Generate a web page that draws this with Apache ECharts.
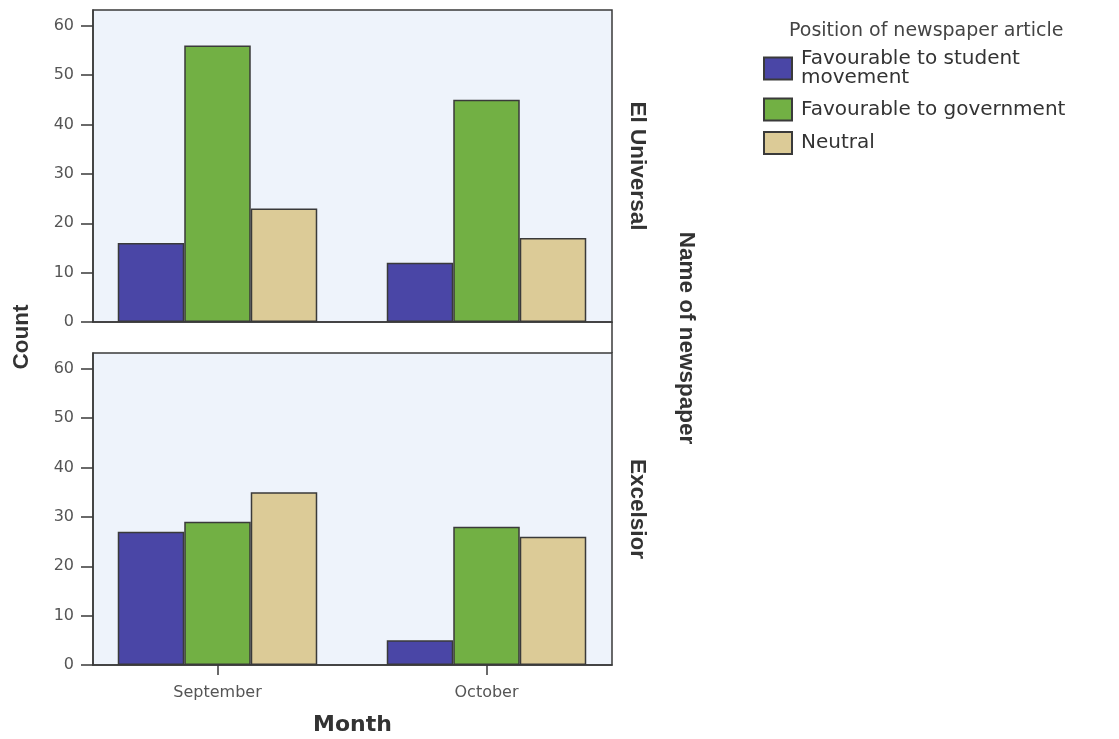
<!DOCTYPE html>
<html>
<head>
<meta charset="utf-8">
<script src="https://cdn.jsdelivr.net/npm/echarts@6/dist/echarts.min.js"></script>
<style>
  html, body { margin: 0; padding: 0; background: #fff; }
  #chartContainer { width: 1119px; height: 739px; }
</style>
</head>
<body>
<div id="chartContainer"></div>
<script>
var MONTHS = ["September", "October"];
var POSITIONS = ["Favourable to student movement", "Favourable to government", "Neutral"];
var PAPERS = ["El Universal", "Excelsior"];
// counts per month
var UNIVERSAL_STUDENT = [16, 12];
var UNIVERSAL_GOV = [56, 45];
var UNIVERSAL_NEUTRAL = [23, 17];
var EXCELSIOR_STUDENT = [27, 5];
var EXCELSIOR_GOV = [29, 28];
var EXCELSIOR_NEUTRAL = [35, 26];
var Y_TICKS = [0, 10, 20, 30, 40, 50, 60];
var COLORS = ["#4a46a6", "#72b044", "#dccb97"];

var CHART;
var LINE = "#3a3a3a";
var FONT = "DejaVu Sans";

function toPoints(values) {
  return values.map((v, i) => [i, v]);
}

function makeBar(name, values, panel, color) {
  return {
    name: name,
    type: "bar",
    xAxisIndex: panel,
    yAxisIndex: panel,
    barWidth: 66.5,
    barGap: "0%",
    data: toPoints(values),
    itemStyle: { color: color, borderColor: LINE, borderWidth: 1.5 },
    emphasis: { disabled: true },
  };
}

function makeXAxis(panel) {
  let axis = {
    type: "value",
    gridIndex: panel,
    min: -0.4628,
    max: 1.4665,
    splitLine: { show: false },
    axisLine: { show: true, onZero: false, lineStyle: { color: LINE, width: 1.5 } },
    axisTick: { show: false },
    axisLabel: { show: false },
  };
  if (panel == 1) {
    axis.axisTick = {
      show: true,
      length: 10,
      customValues: [0, 1],
      lineStyle: { color: LINE, width: 1.5 },
    };
    axis.axisLabel = {
      show: true,
      customValues: [0, 1],
      margin: 20,
      color: "#555",
      fontFamily: FONT,
      fontSize: 16,
      formatter: (v) => MONTHS[Math.round(v)],
    };
    axis.name = "Month";
    axis.nameLocation = "middle";
    axis.nameGap = 49;
    axis.nameTextStyle = { color: "#333", fontFamily: FONT, fontSize: 22, fontWeight: "bold" };
  }
  return axis;
}

function makeYAxis(panel) {
  return {
    type: "value",
    gridIndex: panel,
    min: 0,
    max: 63.2,
    splitLine: { show: false },
    axisLine: { show: true, onZero: false, lineStyle: { color: LINE, width: 1.5 } },
    axisTick: {
      show: true,
      length: 12,
      customValues: Y_TICKS,
      lineStyle: { color: LINE, width: 1.5 },
    },
    axisLabel: {
      customValues: Y_TICKS,
      margin: 19,
      color: "#555",
      fontFamily: FONT,
      fontSize: 16,
    },
  };
}

function rotatedText(text, x, y, rotation) {
  return {
    type: "text",
    x: x,
    y: y,
    rotation: rotation,
    style: {
      text: text,
      fill: "#333",
      font: "bold 22.5px 'Liberation Sans', Arial, sans-serif",
      align: "center",
      verticalAlign: "middle",
    },
  };
}

window.onload = (_) => {
  CHART = echarts.init(document.getElementById("chartContainer"), null, { renderer: "canvas" });

  var option = {
    animation: false,
    title: {
      text: "Position of newspaper article",
      left: 789,
      top: 22,
      padding: 0,
      textStyle: { color: "#444", fontFamily: FONT, fontSize: 19, fontWeight: "normal" },
    },
    legend: {
      data: POSITIONS,
      orient: "vertical",
      left: 763,
      top: 49,
      padding: 0,
      itemGap: 9.5,
      itemWidth: 28,
      itemHeight: 22,
      icon: "rect",
      selectedMode: false,
      formatter: (name) => (name == POSITIONS[0] ? "Favourable to student\nmovement" : name),
      textStyle: { color: "#333", fontFamily: FONT, fontSize: 20, lineHeight: 19, padding: [0, 0, 0, 4] },
    },
    grid: [
      {
        id: "universal",
        left: 93,
        top: 10,
        width: 519,
        height: 312,
        show: true,
        backgroundColor: "#eef3fb",
        borderColor: LINE,
        borderWidth: 1.5,
        outerBoundsMode: "none",
      },
      {
        id: "excelsior",
        left: 93,
        top: 353,
        width: 519,
        height: 312,
        show: true,
        backgroundColor: "#eef3fb",
        borderColor: LINE,
        borderWidth: 1.5,
        outerBoundsMode: "none",
      },
    ],
    xAxis: [makeXAxis(0), makeXAxis(1)],
    yAxis: [makeYAxis(0), makeYAxis(1)],
    series: [
      makeBar(POSITIONS[0], UNIVERSAL_STUDENT, 0, COLORS[0]),
      makeBar(POSITIONS[1], UNIVERSAL_GOV, 0, COLORS[1]),
      makeBar(POSITIONS[2], UNIVERSAL_NEUTRAL, 0, COLORS[2]),
      makeBar(POSITIONS[0], EXCELSIOR_STUDENT, 1, COLORS[0]),
      makeBar(POSITIONS[1], EXCELSIOR_GOV, 1, COLORS[1]),
      makeBar(POSITIONS[2], EXCELSIOR_NEUTRAL, 1, COLORS[2]),
    ],
    graphic: [
      {
        type: "line",
        shape: { x1: 612, y1: 322, x2: 612, y2: 353 },
        style: { stroke: LINE, lineWidth: 1.5 },
      },
      rotatedText(PAPERS[0], 637, 166, -Math.PI / 2),
      rotatedText(PAPERS[1], 637, 509, -Math.PI / 2),
      rotatedText("Name of newspaper", 686, 338, -Math.PI / 2),
      rotatedText("Count", 22, 337, Math.PI / 2),
    ],
  };
  CHART.setOption(option);
};
</script>
</body>
</html>
